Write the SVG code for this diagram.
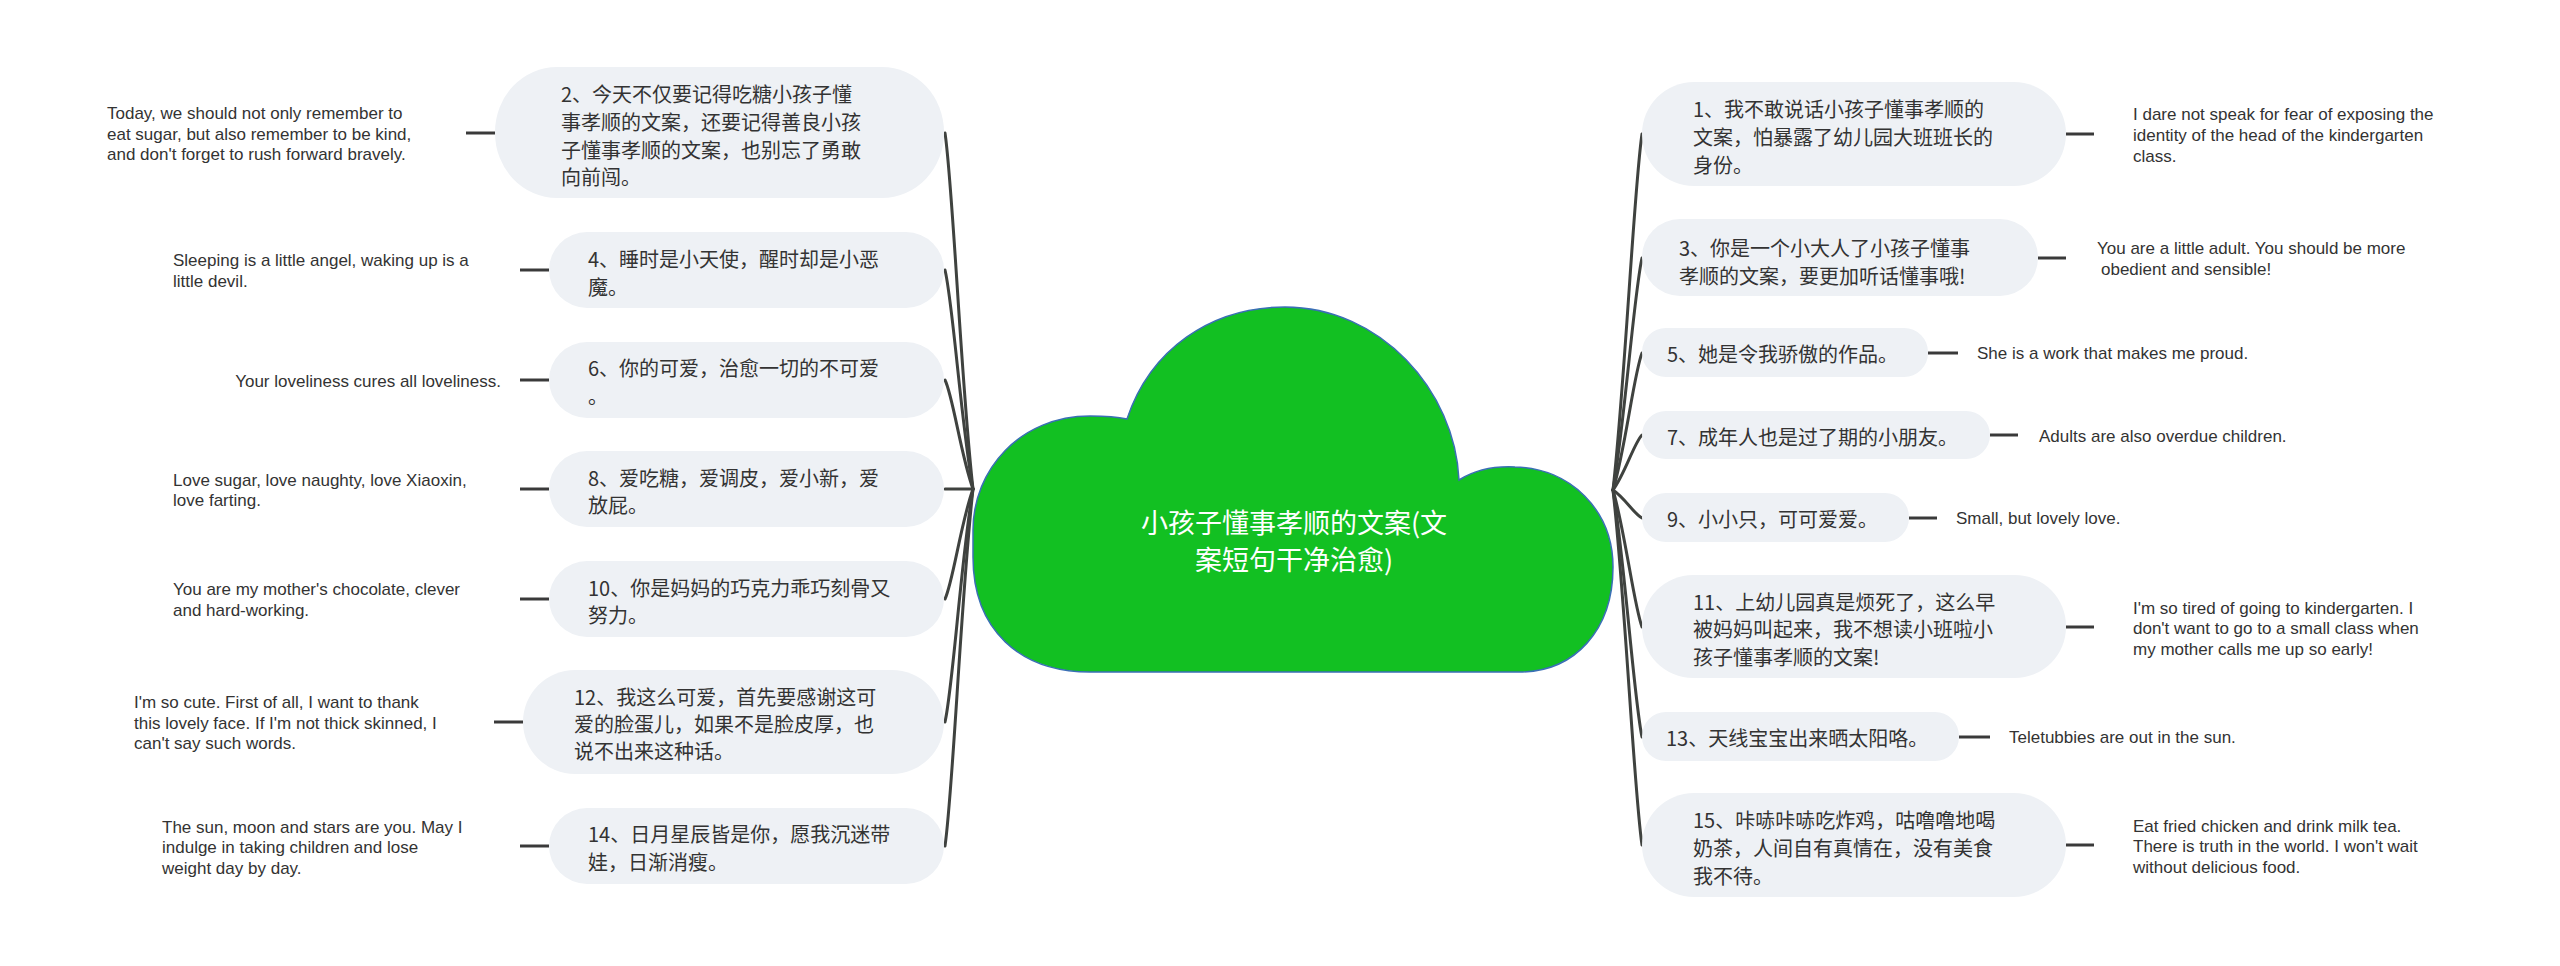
<svg xmlns="http://www.w3.org/2000/svg" width="2560" height="966" viewBox="0 0 2560 966">
<style>
.node rect{fill:#eef1f5;}
.cn{font-family:"Noto Sans CJK SC","Noto Sans",sans-serif;font-size:20px;fill:#333333;dominant-baseline:central;}
.en{font-family:"Liberation Sans",Arial,sans-serif;font-size:17px;fill:#333333;dominant-baseline:central;}
.title{font-family:"Noto Sans CJK SC","Noto Sans",sans-serif;font-size:27px;fill:#ffffff;dominant-baseline:central;text-anchor:middle;}
.conn path{fill:none;stroke:#3f423f;stroke-width:3;stroke-linecap:round;}
.conn line{stroke:#3a3a3a;stroke-width:3;}
</style>
<rect width="2560" height="966" fill="#ffffff"/>
<g id="connectors" class="conn">
<path d="M973 489 C961 383 953 186 945 133"/>
<path d="M973 489 C961 423 953 303 945 270"/>
<path d="M973 489 C961 456 953 396 945 380"/>
<path d="M973 489 L945 489"/>
<path d="M973 489 C961 522 953 582 945 599"/>
<path d="M973 489 C961 559 953 687 945 722"/>
<path d="M973 489 C961 596 953 792 945 846"/>
<path d="M1613 490 C1625 383 1634 187 1642 134"/>
<path d="M1613 490 C1625 420 1634 293 1642 258"/>
<path d="M1613 490 C1625 451 1634 373 1642 353"/>
<path d="M1613 490 C1625 474 1634 443 1642 435"/>
<path d="M1613 490 C1625 498 1634 514 1642 518"/>
<path d="M1613 490 C1625 531 1634 606 1642 627"/>
<path d="M1613 490 C1625 564 1634 700 1642 737"/>
<path d="M1613 490 C1625 596 1634 792 1642 845"/>
<line x1="466" y1="133" x2="495" y2="133"/>
<line x1="520" y1="270" x2="549" y2="270"/>
<line x1="520" y1="380" x2="549" y2="380"/>
<line x1="520" y1="489" x2="549" y2="489"/>
<line x1="520" y1="599" x2="549" y2="599"/>
<line x1="494" y1="722" x2="523" y2="722"/>
<line x1="520" y1="846" x2="549" y2="846"/>
<line x1="2066" y1="134" x2="2094" y2="134"/>
<line x1="2038" y1="258" x2="2066" y2="258"/>
<line x1="1928" y1="353" x2="1958" y2="353"/>
<line x1="1990" y1="435" x2="2018" y2="435"/>
<line x1="1909" y1="518" x2="1937" y2="518"/>
<line x1="2066" y1="627" x2="2094" y2="627"/>
<line x1="1959" y1="737" x2="1990" y2="737"/>
<line x1="2066" y1="845" x2="2094" y2="845"/>
</g>
<g id="root">
<path d="M1090 672 C1020 672 973 630 973 557 L973 530 C973 470 1020 416 1090 416 C1105 416 1118 417 1127 419 C1150 350 1210 307 1285 307 C1380 307 1455 390 1459 480 C1475 470 1495 466 1515 467 C1570 468 1613 510 1613 567 C1613 630 1575 672 1519 672 Z" fill="#12c022" stroke="#3a6fb5" stroke-width="1.5"/>
<text class="title" x="1294" y="521">小孩子懂事孝顺的文案(文</text>
<text class="title" x="1294" y="558">案短句干净治愈)</text>
</g>
<g id="n2" class="node"><rect x="495" y="67" width="449" height="131" rx="62" ry="65"/>
<text class="cn" x="561"><tspan x="561" y="93">2、今天不仅要记得吃糖小孩子懂</tspan><tspan x="561" y="121">事孝顺的文案，还要记得善良小孩</tspan><tspan x="561" y="149">子懂事孝顺的文案，也别忘了勇敢</tspan><tspan x="561" y="176">向前闯。</tspan></text>
<text class="en"><tspan x="107" y="113">Today, we should not only remember to</tspan><tspan x="107" y="134">eat sugar, but also remember to be kind,</tspan><tspan x="107" y="154">and don't forget to rush forward bravely.</tspan></text></g>
<g id="n4" class="node"><rect x="549" y="232" width="395" height="76" rx="38"/>
<text class="cn"><tspan x="588" y="258">4、睡时是小天使，醒时却是小恶</tspan><tspan x="588" y="286">魔。</tspan></text>
<text class="en"><tspan x="173" y="260">Sleeping is a little angel, waking up is a</tspan><tspan x="173" y="281">little devil.</tspan></text></g>
<g id="n6" class="node"><rect x="549" y="342" width="395" height="76" rx="38"/>
<text class="cn"><tspan x="588" y="367">6、你的可爱，治愈一切的不可爱</tspan><tspan x="588" y="395">。</tspan></text>
<text class="en" x="501" y="381" text-anchor="end">Your loveliness cures all loveliness.</text></g>
<g id="n8" class="node"><rect x="549" y="451" width="395" height="76" rx="38"/>
<text class="cn"><tspan x="588" y="477">8、爱吃糖，爱调皮，爱小新，爱</tspan><tspan x="588" y="504">放屁。</tspan></text>
<text class="en"><tspan x="173" y="480">Love sugar, love naughty, love Xiaoxin,</tspan><tspan x="173" y="500">love farting.</tspan></text></g>
<g id="n10" class="node"><rect x="549" y="561" width="395" height="76" rx="38"/>
<text class="cn"><tspan x="588" y="587">10、你是妈妈的巧克力乖巧刻骨又</tspan><tspan x="588" y="614">努力。</tspan></text>
<text class="en"><tspan x="173" y="589">You are my mother's chocolate, clever</tspan><tspan x="173" y="610">and hard-working.</tspan></text></g>
<g id="n12" class="node"><rect x="523" y="670" width="421" height="104" rx="52"/>
<text class="cn"><tspan x="574" y="696">12、我这么可爱，首先要感谢这可</tspan><tspan x="574" y="723">爱的脸蛋儿，如果不是脸皮厚，也</tspan><tspan x="574" y="750">说不出来这种话。</tspan></text>
<text class="en"><tspan x="134" y="702">I'm so cute. First of all, I want to thank</tspan><tspan x="134" y="723">this lovely face. If I'm not thick skinned, I</tspan><tspan x="134" y="743">can't say such words.</tspan></text></g>
<g id="n14" class="node"><rect x="549" y="808" width="395" height="76" rx="38"/>
<text class="cn"><tspan x="588" y="833">14、日月星辰皆是你，愿我沉迷带</tspan><tspan x="588" y="861">娃，日渐消瘦。</tspan></text>
<text class="en"><tspan x="162" y="827">The sun, moon and stars are you. May I</tspan><tspan x="162" y="847">indulge in taking children and lose</tspan><tspan x="162" y="868">weight day by day.</tspan></text></g>
<g id="n1" class="node"><rect x="1642" y="82" width="424" height="104" rx="52"/>
<text class="cn"><tspan x="1693" y="108">1、我不敢说话小孩子懂事孝顺的</tspan><tspan x="1693" y="136">文案，怕暴露了幼儿园大班班长的</tspan><tspan x="1693" y="164">身份。</tspan></text>
<text class="en"><tspan x="2133" y="114">I dare not speak for fear of exposing the</tspan><tspan x="2133" y="135">identity of the head of the kindergarten</tspan><tspan x="2133" y="156">class.</tspan></text></g>
<g id="n3" class="node"><rect x="1642" y="219" width="396" height="77" rx="38"/>
<text class="cn"><tspan x="1679" y="247">3、你是一个小大人了小孩子懂事</tspan><tspan x="1679" y="275">孝顺的文案，要更加听话懂事哦!</tspan></text>
<text class="en"><tspan x="2097" y="248">You are a little adult. You should be more</tspan><tspan x="2101" y="269">obedient and sensible!</tspan></text></g>
<g id="n5" class="node"><rect x="1642" y="328" width="286" height="49" rx="24"/>
<text class="cn" x="1667" y="353">5、她是令我骄傲的作品。</text>
<text class="en" x="1977" y="353">She is a work that makes me proud.</text></g>
<g id="n7" class="node"><rect x="1642" y="411" width="348" height="48" rx="24"/>
<text class="cn" x="1667" y="436">7、成年人也是过了期的小朋友。</text>
<text class="en" x="2039" y="436">Adults are also overdue children.</text></g>
<g id="n9" class="node"><rect x="1642" y="493" width="267" height="49" rx="24"/>
<text class="cn" x="1667" y="518">9、小小只，可可爱爱。</text>
<text class="en" x="1956" y="518">Small, but lovely love.</text></g>
<g id="n11" class="node"><rect x="1642" y="575" width="424" height="103" rx="51"/>
<text class="cn"><tspan x="1693" y="601">11、上幼儿园真是烦死了，这么早</tspan><tspan x="1693" y="628">被妈妈叫起来，我不想读小班啦小</tspan><tspan x="1693" y="656">孩子懂事孝顺的文案!</tspan></text>
<text class="en"><tspan x="2133" y="608">I'm so tired of going to kindergarten. I</tspan><tspan x="2133" y="628">don't want to go to a small class when</tspan><tspan x="2133" y="649">my mother calls me up so early!</tspan></text></g>
<g id="n13" class="node"><rect x="1642" y="712" width="317" height="49" rx="24"/>
<text class="cn" x="1666" y="737">13、天线宝宝出来晒太阳咯。</text>
<text class="en" x="2009" y="737">Teletubbies are out in the sun.</text></g>
<g id="n15" class="node"><rect x="1642" y="793" width="424" height="104" rx="52"/>
<text class="cn"><tspan x="1693" y="819">15、咔哧咔哧吃炸鸡，咕噜噜地喝</tspan><tspan x="1693" y="847">奶茶，人间自有真情在，没有美食</tspan><tspan x="1693" y="875">我不待。</tspan></text>
<text class="en"><tspan x="2133" y="826">Eat fried chicken and drink milk tea.</tspan><tspan x="2133" y="846">There is truth in the world. I won't wait</tspan><tspan x="2133" y="867">without delicious food.</tspan></text></g>
</svg>
